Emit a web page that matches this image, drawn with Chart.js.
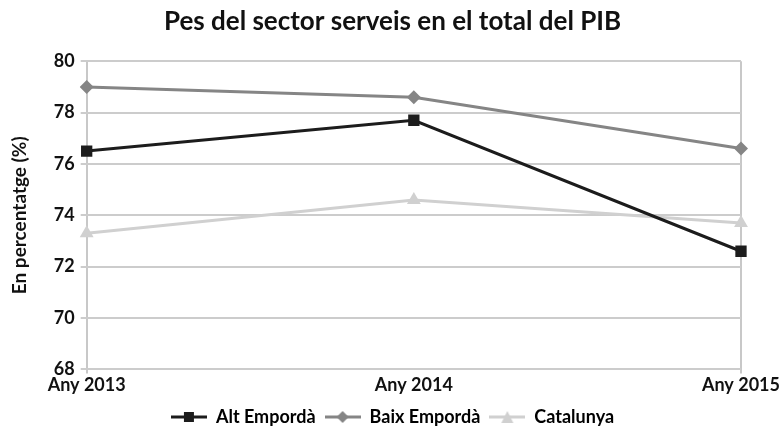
<!DOCTYPE html>
<html>
<head>
<meta charset="utf-8">
<script src="https://cdn.jsdelivr.net/npm/chart.js@4.4.1/dist/chart.umd.min.js"></script>
<style>
  body { margin: 0; background: #fff; }
  #wrap { width: 781px; height: 436px; }
</style>
</head>
<body>
<div id="wrap"><canvas id="chart"></canvas></div>
<script>
const years = ['Any 2013', 'Any 2014', 'Any 2015'];
const altEmporda = [76.5, 77.7, 72.6];
const baixEmporda = [79.0, 78.6, 76.6];
const catalunya = [73.3, 74.6, 73.7];
const yTicks = [68, 70, 72, 74, 76, 78, 80];

const FONT = 'Lato, "Liberation Sans Narrow", sans-serif';

// legend icon: short line with the marker on top
function legendIcon(color, style) {
  const c = document.createElement('canvas');
  c.width = 36; c.height = 14;
  const ctx = c.getContext('2d');
  ctx.strokeStyle = color;
  ctx.fillStyle = color;
  ctx.lineWidth = 3;
  ctx.beginPath();
  ctx.moveTo(0, 7); ctx.lineTo(36, 7);
  ctx.stroke();
  ctx.beginPath();
  if (style === 'rect') {
    ctx.rect(13, 2, 10, 10);
  } else if (style === 'rectRot') {
    ctx.moveTo(18, 1); ctx.lineTo(24, 7); ctx.lineTo(18, 13); ctx.lineTo(12, 7);
  } else {
    ctx.moveTo(18, 1); ctx.lineTo(24, 13); ctx.lineTo(12, 13);
  }
  ctx.closePath();
  ctx.fill();
  return c;
}

const datasets = [
  { label: 'Alt Empordà', data: altEmporda, color: '#1c1c1c', style: 'rect', radius: 8 },
  { label: 'Baix Empordà', data: baixEmporda, color: '#858585', style: 'rectRot', radius: 7 },
  { label: 'Catalunya', data: catalunya, color: '#d0d0d0', style: 'triangle', radius: 8 }
].map(d => ({
  label: d.label,
  data: d.data,
  borderColor: d.color,
  backgroundColor: d.color,
  borderWidth: 3,
  pointStyle: d.style,
  pointRadius: d.radius,
  pointHoverRadius: d.radius,
  pointBorderWidth: 0,
  tension: 0,
  fill: false,
  icon: legendIcon(d.color, d.style)
}));

new Chart(document.getElementById('chart').getContext('2d'), {
  type: 'line',
  data: { labels: years, datasets: datasets },
  options: {
    responsive: true,
    maintainAspectRatio: false,
    animation: false,
    layout: { padding: { left: 8, right: 4, top: 4, bottom: 0 } },
    scales: {
      x: {
        offset: false,
        grid: {
          color: ctx => (ctx.index === 0 || ctx.index === years.length - 1) ? '#c8c8c8' : 'rgba(0,0,0,0)',
          lineWidth: 2,
          drawTicks: true,
          tickLength: 4
        },
        border: { display: false },
        ticks: { color: '#111', font: { family: FONT, size: 18, weight: 'bold' }, padding: 1, maxRotation: 0 },
        afterFit: axis => { axis.height += 2; }
      },
      y: {
        min: 68,
        max: 80,
        afterBuildTicks: axis => { axis.ticks = yTicks.map(v => ({ value: v })); },
        grid: { color: '#cccccc', lineWidth: 2, tickLength: 6 },
        border: { display: false },
        ticks: { color: '#111', font: { family: FONT, size: 18, weight: 'bold' }, padding: 6 },
        title: {
          display: true,
          text: 'En percentatge (%)',
          color: '#111',
          font: { family: FONT, size: 19, weight: 'bold' },
          padding: { top: 0, bottom: 17 }
        }
      }
    },
    plugins: {
      title: {
        display: true,
        text: 'Pes del sector serveis en el total del PIB',
        color: '#111',
        font: { family: FONT, size: 26, weight: 'bold' },
        padding: { top: 2, bottom: 24 }
      },
      legend: {
        position: 'bottom',
        labels: {
          usePointStyle: true,
          pointStyleWidth: 36,
          boxHeight: 14,
          padding: 9,
          color: '#111',
          font: { family: FONT, size: 18, weight: 'bold' },
          generateLabels: chart => chart.data.datasets.map((ds, i) => ({
            text: ds.label,
            pointStyle: ds.icon,
            fillStyle: ds.borderColor,
            strokeStyle: ds.borderColor,
            lineWidth: 0,
            datasetIndex: i,
            hidden: false
          }))
        }
      },
      tooltip: { enabled: false }
    }
  }
});
</script>
</body>
</html>
